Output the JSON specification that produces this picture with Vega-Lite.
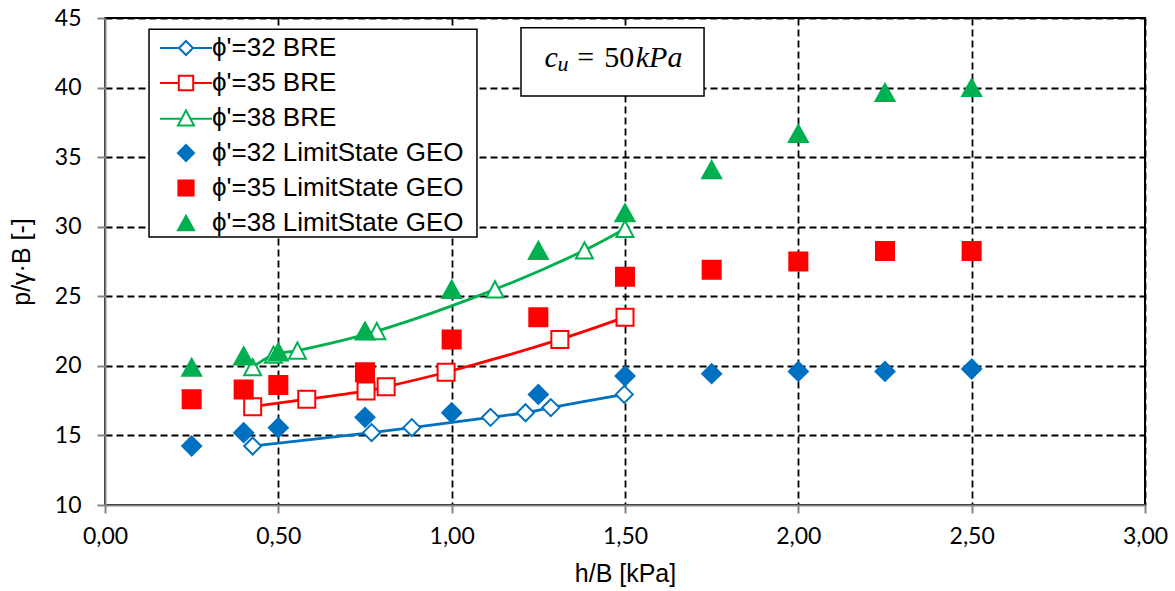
{
  "$schema": "https://vega.github.io/schema/vega-lite/v6.json",
  "width": 1040,
  "height": 487,
  "autosize": {"type": "none"},
  "padding": {"left": 105, "top": 18, "right": 30, "bottom": 86},
  "background": "white",
  "config": {
    "locale": {"number": {"decimal": ",", "thousands": ".", "grouping": [3], "currency": ["", " €"]}},
    "view": {"stroke": "black", "strokeWidth": 2},
    "axis": {
      "grid": true,
      "labelFont": "Lato", "labelFontSize": 23, "labelColor": "black",
      "titleFont": "Liberation Sans", "titleFontSize": 25, "titleFontWeight": "normal", "titleColor": "black",
      "tickColor": "#868686", "tickSize": 8, "tickWidth": 2,
      "domainColor": "#868686", "domainWidth": 2,
      "gridColor": "black", "gridDash": [7, 4], "gridWidth": 1.8, "gridOpacity": 1
    },
    "axisX": {"labelPadding": 12, "titlePadding": 13, "labelFlush": false},
    "axisY": {"labelPadding": 16, "titlePadding": 20, "labelFlush": false}
  },
  "data": {
    "values": [
      {"series": "ϕ'=32 BRE", "x": 0.426, "y": 14.24},
      {"series": "ϕ'=32 BRE", "x": 0.769, "y": 15.2},
      {"series": "ϕ'=32 BRE", "x": 0.885, "y": 15.56},
      {"series": "ϕ'=32 BRE", "x": 1.112, "y": 16.3},
      {"series": "ϕ'=32 BRE", "x": 1.213, "y": 16.63},
      {"series": "ϕ'=32 BRE", "x": 1.286, "y": 17.0},
      {"series": "ϕ'=32 BRE", "x": 1.498, "y": 17.95},
      {"series": "ϕ'=35 BRE", "x": 0.426, "y": 17.07},
      {"series": "ϕ'=35 BRE", "x": 0.582, "y": 17.6},
      {"series": "ϕ'=35 BRE", "x": 0.753, "y": 18.2},
      {"series": "ϕ'=35 BRE", "x": 0.811, "y": 18.5},
      {"series": "ϕ'=35 BRE", "x": 0.984, "y": 19.54},
      {"series": "ϕ'=35 BRE", "x": 1.312, "y": 21.9},
      {"series": "ϕ'=35 BRE", "x": 1.5, "y": 23.5},
      {"series": "ϕ'=38 BRE", "x": 0.426, "y": 19.9},
      {"series": "ϕ'=38 BRE", "x": 0.486, "y": 20.8},
      {"series": "ϕ'=38 BRE", "x": 0.555, "y": 21.1},
      {"series": "ϕ'=38 BRE", "x": 0.784, "y": 22.5},
      {"series": "ϕ'=38 BRE", "x": 1.125, "y": 25.5},
      {"series": "ϕ'=38 BRE", "x": 1.383, "y": 28.3},
      {"series": "ϕ'=38 BRE", "x": 1.5, "y": 29.85},
      {"series": "ϕ'=32 LimitState GEO", "x": 0.25, "y": 14.24},
      {"series": "ϕ'=32 LimitState GEO", "x": 0.4, "y": 15.2},
      {"series": "ϕ'=32 LimitState GEO", "x": 0.5, "y": 15.56},
      {"series": "ϕ'=32 LimitState GEO", "x": 0.75, "y": 16.3},
      {"series": "ϕ'=32 LimitState GEO", "x": 1.0, "y": 16.63},
      {"series": "ϕ'=32 LimitState GEO", "x": 1.25, "y": 17.95},
      {"series": "ϕ'=32 LimitState GEO", "x": 1.5, "y": 19.27},
      {"series": "ϕ'=32 LimitState GEO", "x": 1.75, "y": 19.44},
      {"series": "ϕ'=32 LimitState GEO", "x": 2.0, "y": 19.6},
      {"series": "ϕ'=32 LimitState GEO", "x": 2.25, "y": 19.6},
      {"series": "ϕ'=32 LimitState GEO", "x": 2.5, "y": 19.77},
      {"series": "ϕ'=35 LimitState GEO", "x": 0.25, "y": 17.6},
      {"series": "ϕ'=35 LimitState GEO", "x": 0.4, "y": 18.3},
      {"series": "ϕ'=35 LimitState GEO", "x": 0.5, "y": 18.62},
      {"series": "ϕ'=35 LimitState GEO", "x": 0.75, "y": 19.54},
      {"series": "ϕ'=35 LimitState GEO", "x": 1.0, "y": 21.9},
      {"series": "ϕ'=35 LimitState GEO", "x": 1.25, "y": 23.5},
      {"series": "ϕ'=35 LimitState GEO", "x": 1.5, "y": 26.4},
      {"series": "ϕ'=35 LimitState GEO", "x": 1.75, "y": 26.9},
      {"series": "ϕ'=35 LimitState GEO", "x": 2.0, "y": 27.5},
      {"series": "ϕ'=35 LimitState GEO", "x": 2.25, "y": 28.25},
      {"series": "ϕ'=35 LimitState GEO", "x": 2.5, "y": 28.25},
      {"series": "ϕ'=38 LimitState GEO", "x": 0.25, "y": 19.9},
      {"series": "ϕ'=38 LimitState GEO", "x": 0.4, "y": 20.72},
      {"series": "ϕ'=38 LimitState GEO", "x": 0.5, "y": 21.0},
      {"series": "ϕ'=38 LimitState GEO", "x": 0.75, "y": 22.5},
      {"series": "ϕ'=38 LimitState GEO", "x": 1.0, "y": 25.5},
      {"series": "ϕ'=38 LimitState GEO", "x": 1.25, "y": 28.3},
      {"series": "ϕ'=38 LimitState GEO", "x": 1.5, "y": 31.0},
      {"series": "ϕ'=38 LimitState GEO", "x": 1.75, "y": 34.1},
      {"series": "ϕ'=38 LimitState GEO", "x": 2.0, "y": 36.7},
      {"series": "ϕ'=38 LimitState GEO", "x": 2.25, "y": 39.65},
      {"series": "ϕ'=38 LimitState GEO", "x": 2.5, "y": 40.0}
    ]
  },
  "layer": [
    {
      "data": {"values": [{}]},
      "mark": {"type": "rect", "fill": "white", "stroke": "black", "strokeWidth": 1.5},
      "encoding": {
        "x": {"datum": 0.127, "type": "quantitative", "scale": {"domain": [0, 3], "nice": false, "zero": false}, "title": "h/B [kPa]", "axis": {"grid": true, "labelFlush": false, "values": [0, 0.5, 1, 1.5, 2, 2.5, 3], "format": ".2f", "gridColor": {"condition": {"test": "datum.value === 0", "value": "transparent"}, "value": "black"}}},
        "x2": {"datum": 1.073},
        "y": {"datum": 44.2, "type": "quantitative", "scale": {"domain": [10, 45], "nice": false, "zero": false}, "title": "p/γ·B [-]", "axis": {"grid": true, "labelFlush": false, "values": [10, 15, 20, 25, 30, 35, 40, 45], "format": "d", "gridColor": {"condition": {"test": "datum.value === 10", "value": "transparent"}, "value": "black"}}},
        "y2": {"datum": 29.26}
      }
    },
    {
      "data": {"values": [{}]},
      "mark": {"type": "rect", "fill": "white", "stroke": "black", "strokeWidth": 1.5},
      "encoding": {
        "x": {"datum": 1.2, "type": "quantitative", "title": "h/B [kPa]"},
        "x2": {"datum": 1.728},
        "y": {"datum": 44.3, "type": "quantitative", "title": "p/γ·B [-]"},
        "y2": {"datum": 39.4}
      }
    },
    {
      "data": {"values": [{}]},
      "mark": {"type": "text", "text": "c", "font": "Liberation Serif", "fontStyle": "italic", "fontSize": 30, "align": "left", "baseline": "alphabetic", "color": "black"},
      "encoding": {"x": {"datum": 1.268, "type": "quantitative", "title": "h/B [kPa]"}, "y": {"datum": 41.5, "type": "quantitative", "title": "p/γ·B [-]"}}
    },
    {
      "data": {"values": [{}]},
      "mark": {"type": "text", "text": "u", "font": "Liberation Serif", "fontStyle": "italic", "fontSize": 22, "align": "left", "baseline": "alphabetic", "color": "black"},
      "encoding": {"x": {"datum": 1.305, "type": "quantitative", "title": "h/B [kPa]"}, "y": {"datum": 41.2, "type": "quantitative", "title": "p/γ·B [-]"}}
    },
    {
      "data": {"values": [{}]},
      "mark": {"type": "text", "text": "=", "font": "Liberation Serif", "fontSize": 30, "align": "left", "baseline": "alphabetic", "color": "black"},
      "encoding": {"x": {"datum": 1.362, "type": "quantitative", "title": "h/B [kPa]"}, "y": {"datum": 41.5, "type": "quantitative", "title": "p/γ·B [-]"}}
    },
    {
      "data": {"values": [{}]},
      "mark": {"type": "text", "text": "50", "font": "Liberation Serif", "fontSize": 30, "align": "left", "baseline": "alphabetic", "color": "black"},
      "encoding": {"x": {"datum": 1.44, "type": "quantitative", "title": "h/B [kPa]"}, "y": {"datum": 41.5, "type": "quantitative", "title": "p/γ·B [-]"}}
    },
    {
      "data": {"values": [{}]},
      "mark": {"type": "text", "text": "kPa", "font": "Liberation Serif", "fontStyle": "italic", "fontSize": 30, "align": "left", "baseline": "alphabetic", "color": "black"},
      "encoding": {"x": {"datum": 1.531, "type": "quantitative", "title": "h/B [kPa]"}, "y": {"datum": 41.5, "type": "quantitative", "title": "p/γ·B [-]"}}
    },
    {
      "transform": [{"filter": "datum.series === \"ϕ'=32 BRE\""}],
      "mark": {"type": "line", "interpolate": "catmull-rom", "color": "#0070C0", "strokeWidth": 2.8,
        "point": {"filled": false, "fill": "white", "stroke": "#0070C0", "shape": "M0,-1L1,0L0,1L-1,0Z", "size": 289, "strokeWidth": 2}},
      "encoding": {"x": {"field": "x", "type": "quantitative", "title": "h/B [kPa]"}, "y": {"field": "y", "type": "quantitative", "title": "p/γ·B [-]"}}
    },
    {
      "transform": [{"filter": "datum.series === \"ϕ'=35 BRE\""}],
      "mark": {"type": "line", "interpolate": "catmull-rom", "color": "#FF0000", "strokeWidth": 2.8,
        "point": {"filled": false, "fill": "white", "stroke": "#FF0000", "shape": "M-1,-1H1V1H-1Z", "size": 289, "strokeWidth": 2}},
      "encoding": {"x": {"field": "x", "type": "quantitative", "title": "h/B [kPa]"}, "y": {"field": "y", "type": "quantitative", "title": "p/γ·B [-]"}}
    },
    {
      "transform": [{"filter": "datum.series === \"ϕ'=38 BRE\""}],
      "mark": {"type": "line", "interpolate": "catmull-rom", "color": "#00B050", "strokeWidth": 2.8,
        "point": {"filled": false, "fill": "white", "stroke": "#00B050", "shape": "M0,-0.95L1,0.95H-1Z", "size": 289, "strokeWidth": 2}},
      "encoding": {"x": {"field": "x", "type": "quantitative", "title": "h/B [kPa]"}, "y": {"field": "y", "type": "quantitative", "title": "p/γ·B [-]"}}
    },
    {
      "transform": [{"filter": "indexof(datum.series, 'LimitState') >= 0"}],
      "mark": {"type": "point", "filled": true, "size": 361, "strokeWidth": 2, "opacity": 1},
      "encoding": {
        "x": {"field": "x", "type": "quantitative", "title": "h/B [kPa]"},
        "y": {"field": "y", "type": "quantitative", "title": "p/γ·B [-]"},
        "shape": {
          "field": "series", "type": "nominal",
          "scale": {
            "domain": ["ϕ'=32 BRE", "ϕ'=35 BRE", "ϕ'=38 BRE", "ϕ'=32 LimitState GEO", "ϕ'=35 LimitState GEO", "ϕ'=38 LimitState GEO"],
            "range": [
              "M-3.25,0H-0.875M0.875,0H3.25M0,-0.875L0.875,0L0,0.875L-0.875,0Z",
              "M-3.25,0H-0.9M0.9,0H3.25M-0.9,-0.9H0.9V0.9H-0.9Z",
              "M-3.25,0.1H-0.5M0.5,0.1H3.25M0,-0.95L1,0.95H-1Z",
              "M0,-1L1,0L0,1L-1,0Z",
              "M-0.95,-0.95H0.95V0.95H-0.95Z",
              "M0,-0.9L1,0.9H-1Z"
            ]
          },
          "legend": {
            "orient": "none", "legendX": 68, "legendY": 17, "title": null, "padding": 0,
            "symbolSize": 256, "symbolStrokeWidth": 2,
            "labelFont": "Liberation Sans", "labelFontSize": 26, "labelColor": "black",
            "labelOffset": 13, "rowPadding": 9, "labelLimit": 400
          }
        },
        "fill": {
          "field": "series", "type": "nominal",
          "scale": {
            "domain": ["ϕ'=32 BRE", "ϕ'=35 BRE", "ϕ'=38 BRE", "ϕ'=32 LimitState GEO", "ϕ'=35 LimitState GEO", "ϕ'=38 LimitState GEO"],
            "range": ["white", "white", "white", "#0070C0", "#FF0000", "#00B050"]
          }
        },
        "stroke": {
          "field": "series", "type": "nominal",
          "scale": {
            "domain": ["ϕ'=32 BRE", "ϕ'=35 BRE", "ϕ'=38 BRE", "ϕ'=32 LimitState GEO", "ϕ'=35 LimitState GEO", "ϕ'=38 LimitState GEO"],
            "range": ["#0070C0", "#FF0000", "#00B050", "#0070C0", "#FF0000", "#00B050"]
          }
        }
      }
    }
  ]
}
